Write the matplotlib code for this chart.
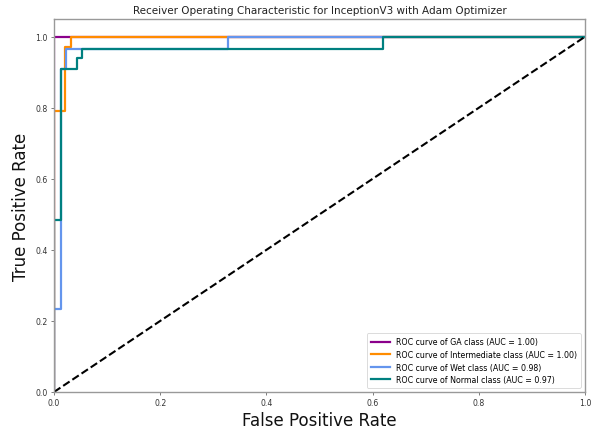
import matplotlib
matplotlib.use("Agg")
import matplotlib.pyplot as plt

# ROC step curves per class (false positive rate, true positive rate)
class_names = ["GA", "Intermediate", "Wet", "Normal"]
auc_values = [1.00, 1.00, 0.98, 0.97]
colors = ["#8B008B", "darkorange", "cornflowerblue", "teal"]

fpr_ga = [0.0, 0.0, 1.0]
tpr_ga = [0.0, 1.0, 1.0]

fpr_inter = [0.0, 0.0, 0.021, 0.021, 0.032, 0.032, 1.0]
tpr_inter = [0.0, 0.79, 0.79, 0.97, 0.97, 1.0, 1.0]

fpr_wet = [0.0, 0.0, 0.0126, 0.0126, 0.022, 0.022, 0.327, 0.327, 1.0]
tpr_wet = [0.0, 0.233, 0.233, 0.909, 0.909, 0.966, 0.966, 1.0, 1.0]

fpr_normal = [0.0, 0.0, 0.0126, 0.0126, 0.043, 0.043, 0.053, 0.053, 0.62, 0.62, 1.0]
tpr_normal = [0.0, 0.484, 0.484, 0.909, 0.909, 0.94, 0.94, 0.966, 0.966, 1.0, 1.0]

fprs = [fpr_ga, fpr_inter, fpr_wet, fpr_normal]
tprs = [tpr_ga, tpr_inter, tpr_wet, tpr_normal]

fig = plt.figure(figsize=(6.06, 4.31), dpi=100)
ax = fig.add_axes([0.0891, 0.0882, 0.8762, 0.8654])

for name, auc, color, fpr, tpr in zip(class_names, auc_values, colors, fprs, tprs):
    ax.plot(fpr, tpr, color=color, lw=1.6,
            label=f"ROC curve of {name} class (AUC = {auc:.2f})")

ax.plot([0, 1], [0, 1], "k--", lw=1.5)

ax.set_xlim(0.0, 1.0)
ax.set_ylim(0.0, 1.05)
ax.set_xlabel("False Positive Rate", fontsize=12, labelpad=3, color="#111111")
ax.set_ylabel("True Positive Rate", fontsize=12, labelpad=4, color="#111111")
ax.set_title("Receiver Operating Characteristic for InceptionV3 with Adam Optimizer",
             fontsize=7.5, pad=4, color="#222222")

ax.tick_params(labelsize=5.6, length=2.5, width=0.6, color="#666666",
               labelcolor="#333333", pad=2)
for spine in ax.spines.values():
    spine.set_color("#999999")
    spine.set_linewidth(1.0)

leg = ax.legend(loc="lower right", fontsize=5.7, handlelength=2.4,
                borderpad=0.5, labelspacing=0.45, frameon=True)
leg.get_frame().set_linewidth(0.6)

fig.savefig("out.png", dpi=100)
